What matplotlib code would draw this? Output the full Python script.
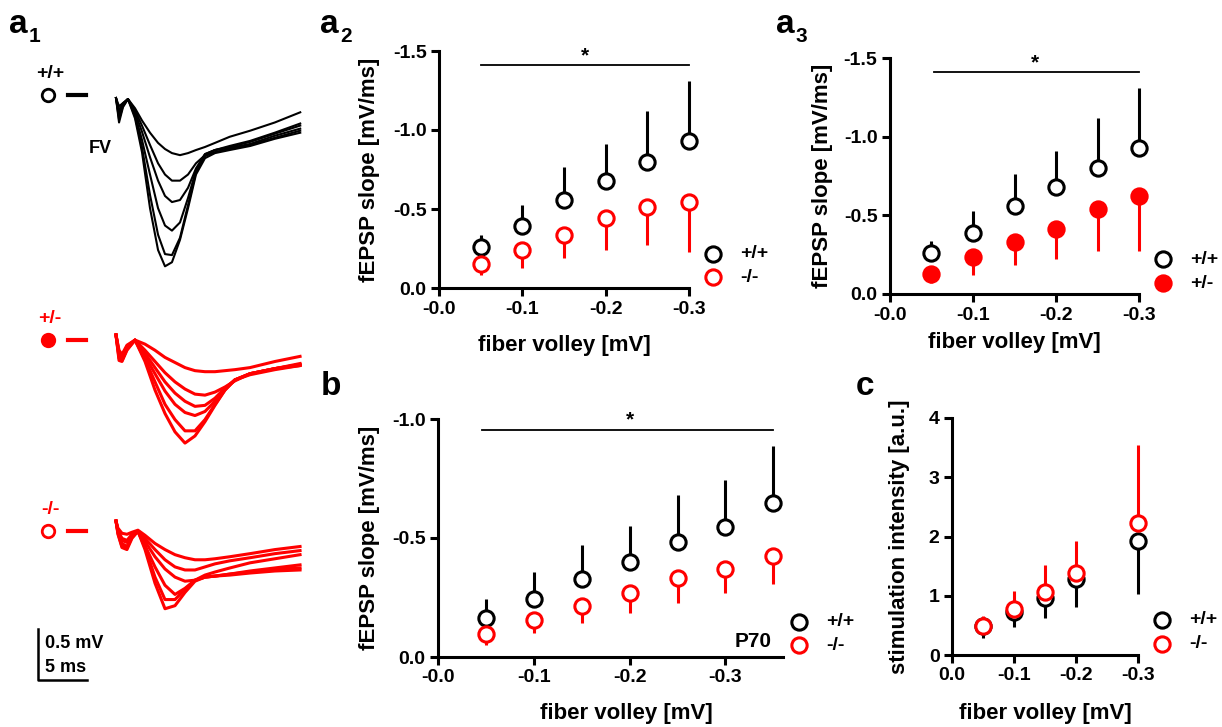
import numpy as np
import matplotlib
matplotlib.use('Agg')
import matplotlib.pyplot as plt

plt.rcParams['font.family'] = ['Liberation Sans', 'DejaVu Sans']
plt.rcParams['font.weight'] = 'bold'
plt.rcParams['axes.labelweight'] = 'bold'

RED = '#ff0000'
BLACK = '#000000'

# ---- example fEPSP traces (ms, mV relative to pre-stimulus baseline) ----
t_wt = [0, 0.31, 0.71, 1.22, 1.94, 2.65, 3.47, 4.29, 5.0, 5.71, 6.53, 7.35,
        8.16, 9.08, 10.1, 11.6, 13.7, 16.2, 18.8]
traces_wt = [
    [0, -0.08, -0.05, -0.01, -0.10, -0.22, -0.34, -0.44, -0.50, -0.54, -0.56, -0.54,
     -0.51, -0.48, -0.44, -0.38, -0.32, -0.24, -0.14],
    [0, -0.12, -0.05, -0.01, -0.12, -0.27, -0.46, -0.64, -0.75, -0.81, -0.81, -0.75,
     -0.64, -0.56, -0.51, -0.47, -0.42, -0.34, -0.25],
    [0, -0.15, -0.06, -0.01, -0.14, -0.33, -0.58, -0.81, -0.96, -1.02, -1.00, -0.88,
     -0.69, -0.55, -0.51, -0.48, -0.43, -0.35, -0.27],
    [0, -0.18, -0.07, -0.01, -0.16, -0.41, -0.75, -1.08, -1.25, -1.30, -1.22, -0.98,
     -0.71, -0.55, -0.51, -0.49, -0.45, -0.37, -0.30],
    [0, -0.21, -0.08, -0.01, -0.18, -0.48, -0.95, -1.34, -1.53, -1.54, -1.37, -1.05,
     -0.73, -0.57, -0.53, -0.50, -0.46, -0.39, -0.32],
    [0, -0.24, -0.09, -0.01, -0.20, -0.53, -1.08, -1.49, -1.65, -1.61, -1.39, -1.08,
     -0.75, -0.59, -0.54, -0.51, -0.47, -0.40, -0.34],
]

t_het = [0, 0.31, 0.61, 1.12, 1.94, 2.96, 3.98, 5.0, 6.02, 7.04, 8.06, 9.08,
         10.1, 11.12, 12.14, 13.67, 16.22, 18.78]
traces_het = [
    [0, -0.15, -0.19, -0.10, -0.05, -0.09, -0.15, -0.22, -0.27, -0.32, -0.35, -0.36,
     -0.36, -0.35, -0.34, -0.32, -0.26, -0.21],
    [0, -0.17, -0.22, -0.11, -0.05, -0.15, -0.26, -0.37, -0.46, -0.53, -0.58, -0.59,
     -0.56, -0.51, -0.45, -0.38, -0.33, -0.28],
    [0, -0.19, -0.24, -0.12, -0.05, -0.18, -0.32, -0.46, -0.57, -0.65, -0.70, -0.69,
     -0.62, -0.52, -0.44, -0.38, -0.33, -0.29],
    [0, -0.21, -0.25, -0.13, -0.05, -0.21, -0.38, -0.55, -0.68, -0.76, -0.79, -0.75,
     -0.65, -0.53, -0.44, -0.38, -0.33, -0.29],
    [0, -0.23, -0.25, -0.14, -0.05, -0.24, -0.46, -0.68, -0.83, -0.94, -0.94, -0.83,
     -0.68, -0.54, -0.44, -0.38, -0.33, -0.30],
    [0, -0.25, -0.26, -0.15, -0.05, -0.26, -0.54, -0.77, -0.95, -1.06, -0.99, -0.85,
     -0.69, -0.54, -0.44, -0.39, -0.34, -0.30],
]

t_ko = [0, 0.2, 0.61, 1.12, 1.63, 2.24, 2.96, 3.98, 5.0, 6.02, 7.04, 8.06,
        9.08, 10.1, 11.63, 13.67, 16.22, 18.78]
traces_ko = [
    [0, -0.07, -0.12, -0.13, -0.11, -0.09, -0.14, -0.22, -0.28, -0.33, -0.36, -0.38,
     -0.38, -0.37, -0.35, -0.32, -0.28, -0.25],
    [0, -0.09, -0.17, -0.19, -0.13, -0.10, -0.17, -0.28, -0.38, -0.45, -0.48, -0.48,
     -0.45, -0.42, -0.39, -0.36, -0.32, -0.29],
    [0, -0.10, -0.19, -0.21, -0.14, -0.10, -0.20, -0.35, -0.47, -0.55, -0.59, -0.58,
     -0.53, -0.50, -0.46, -0.41, -0.37, -0.33],
    [0, -0.11, -0.22, -0.25, -0.15, -0.10, -0.24, -0.45, -0.63, -0.72, -0.66, -0.58,
     -0.55, -0.54, -0.52, -0.49, -0.46, -0.43],
    [0, -0.12, -0.25, -0.26, -0.16, -0.10, -0.26, -0.55, -0.77, -0.77, -0.67, -0.58,
     -0.55, -0.54, -0.52, -0.50, -0.47, -0.46],
    [0, -0.13, -0.26, -0.28, -0.17, -0.10, -0.28, -0.61, -0.86, -0.83, -0.70, -0.59,
     -0.55, -0.54, -0.53, -0.51, -0.49, -0.48],
]

# ---- input-output: fEPSP slope vs fiber volley (a2, a3) ----
fv = [-0.05, -0.10, -0.15, -0.20, -0.25, -0.30]
wt_slope = [-0.26, -0.39, -0.56, -0.68, -0.80, -0.93]
wt_sem = [0.075, 0.135, 0.205, 0.23, 0.32, 0.38]
ko_slope = [-0.15, -0.24, -0.335, -0.445, -0.51, -0.545]
ko_sem = [0.07, 0.115, 0.145, 0.205, 0.24, 0.32]
het_slope = [-0.127, -0.238, -0.333, -0.412, -0.541, -0.625]
het_sem = [0.055, 0.12, 0.15, 0.19, 0.27, 0.35]

# ---- P70 animals (b) ----
fv_p70 = [-0.05, -0.10, -0.15, -0.20, -0.25, -0.30, -0.35]
wt_p70 = [-0.162, -0.243, -0.327, -0.40, -0.482, -0.545, -0.646]
wt_p70_sem = [0.08, 0.115, 0.145, 0.15, 0.20, 0.20, 0.24]
ko_p70 = [-0.096, -0.155, -0.214, -0.271, -0.33, -0.368, -0.425]
ko_p70_sem = [0.045, 0.055, 0.07, 0.085, 0.105, 0.10, 0.12]

# ---- stimulation intensity needed for a given fiber volley (c) ----
fv_stim = [-0.05, -0.10, -0.15, -0.20, -0.30]
wt_stim = [0.495, 0.73, 0.97, 1.28, 1.92]
wt_stim_sem = [0.215, 0.265, 0.34, 0.465, 0.89]
ko_stim = [0.49, 0.775, 1.067, 1.377, 2.22]
ko_stim_sem = [0.17, 0.305, 0.455, 0.545, 1.32]

W, H = 1222, 727
fig = plt.figure(figsize=(W / 100, H / 100), dpi=100)


def box(x0, y0, x1, y1):
    # pixel box (top-left origin) -> figure fraction rect
    return [x0 / W, (H - y1) / H, (x1 - x0) / W, (y1 - y0) / H]


def series(ax, x, y, sem, color, side, filled=False, z=3):
    zeros = [0] * len(sem)
    yerr = [sem, zeros] if side == 'lo' else [zeros, sem]
    eb = ax.errorbar(x, y, yerr=yerr, fmt='none', ecolor=color, elinewidth=2.2,
                     capsize=0, zorder=z)
    for coll in eb.lines[2]:
        coll.set_clip_on(False)
    ax.plot(x, y, 'o', ms=11, mew=2.2, mec=color,
            mfc=color if filled else 'white', zorder=z + 0.5, clip_on=False)


def style(ax, xlim, ylim, xticks, xlabels, yticks, ylabels, ylabel, ylab_x, xlab_y,
          xlab_x=0.5):
    ax.set_xlim(*xlim)
    ax.set_ylim(*ylim)
    ax.set_xticks(xticks)
    ax.set_xticklabels(xlabels)
    ax.set_yticks(yticks)
    ax.set_yticklabels(ylabels)
    for s in ('top', 'right'):
        ax.spines[s].set_visible(False)
    for s in ('left', 'bottom'):
        ax.spines[s].set_linewidth(2.2)
    ax.tick_params(direction='out', length=6, width=2.2, labelsize=14, pad=3)
    ax.set_xlabel('fiber volley [mV]', fontsize=16)
    ax.set_ylabel(ylabel, fontsize=16)
    ax.xaxis.set_label_coords(xlab_x, xlab_y)
    ax.yaxis.set_label_coords(ylab_x, 0.5)


def sig_bar(ax, x0, x1, level, star_x):
    ax.plot([x0, x1], [level, level], color='black', lw=1.3, clip_on=False)
    ax.text(star_x, level, '*', ha='center', va='bottom', fontsize=15)


# ---- a1: traces ----
ax1 = fig.add_axes([0, 0, 320 / W, 1])
ax1.set_xlim(-116 / 9.8, 204 / 9.8)
ax1.set_ylim(-H / 102, 0)
ax1.axis('off')
for t, group, base, color, lw in [(t_wt, traces_wt, -0.961, BLACK, 1.5),
                                  (t_het, traces_het, -3.284, RED, 2.2),
                                  (t_ko, traces_ko, -5.108, RED, 2.2)]:
    for v in group:
        ax1.plot(t, np.array(v) + base, color=color, lw=lw, solid_joinstyle='round')
# scale bar: 0.5 mV / 5 ms
sb_t, sb_v = -7.96, -6.667
ax1.plot([sb_t, sb_t, sb_t + 5], [sb_v + 0.5, sb_v, sb_v], color='black', lw=1.8)

# ---- a2 ----
ax2 = fig.add_axes(box(439, 51, 689, 288))
series(ax2, fv, wt_slope, wt_sem, BLACK, 'lo')
series(ax2, fv, ko_slope, ko_sem, RED, 'hi')
style(ax2, (0, -0.3), (0, -1.5), [0, -0.1, -0.2, -0.3], ['-0.0', '-0.1', '-0.2', '-0.3'],
      [0, -0.5, -1.0, -1.5], ['0.0', '-0.5', '-1.0', '-1.5'], 'fEPSP slope [mV/ms]',
      -0.236, -0.198)
sig_bar(ax2, -0.05, -0.30, -1.41, -0.175)

# ---- a3 ----
ax3 = fig.add_axes(box(890, 58, 1139, 294))
series(ax3, fv, wt_slope, wt_sem, BLACK, 'lo')
series(ax3, fv, het_slope, het_sem, RED, 'hi', filled=True)
style(ax3, (0, -0.3), (0, -1.5), [0, -0.1, -0.2, -0.3], ['-0.0', '-0.1', '-0.2', '-0.3'],
      [0, -0.5, -1.0, -1.5], ['0.0', '-0.5', '-1.0', '-1.5'], 'fEPSP slope [mV/ms]',
      -0.229, -0.163)
sig_bar(ax3, -0.053, -0.30, -1.41, -0.175)

# ---- b ----
axb = fig.add_axes(box(438, 419, 783, 657))
series(axb, fv_p70, wt_p70, wt_p70_sem, BLACK, 'lo')
series(axb, fv_p70, ko_p70, ko_p70_sem, RED, 'hi')
style(axb, (0, -0.36), (0, -1.0), [0, -0.1, -0.2, -0.3], ['-0.0', '-0.1', '-0.2', '-0.3'],
      [0, -0.5, -1.0], ['0.0', '-0.5', '-1.0'], 'fEPSP slope [mV/ms]', -0.168, -0.194,
      xlab_x=0.547)
sig_bar(axb, -0.046, -0.35, -0.955, -0.2)
axb.text(0.968, 0.042, 'P70', transform=axb.transAxes, ha='right', va='baseline', fontsize=15)

# ---- c ----
axc = fig.add_axes(box(952, 418, 1138, 655))
series(axc, fv_stim, wt_stim, wt_stim_sem, BLACK, 'lo', z=3)
series(axc, fv_stim, ko_stim, ko_stim_sem, RED, 'hi', z=4)
style(axc, (0, -0.3), (0, 4), [0, -0.1, -0.2, -0.3], ['0.0', '-0.1', '-0.2', '-0.3'],
      [0, 1, 2, 3, 4], ['0', '1', '2', '3', '4'], 'stimulation intensity [a.u.]',
      -0.224, -0.202)

# ---- labels, group keys and legends (pixel coordinates) ----
ov = fig.add_axes([0, 0, 1, 1])
ov.set_xlim(0, W)
ov.set_ylim(H, 0)
ov.axis('off')
ov.patch.set_alpha(0)


def panel_letter(x, y, letter, sub=''):
    ov.text(x, y, letter, fontsize=24, ha='left', va='baseline')
    if sub:
        ov.text(x + 20, y + 9, sub, fontsize=15, ha='left', va='baseline')


panel_letter(9, 33, 'a', '1')
panel_letter(320, 33, 'a', '2')
panel_letter(776, 33, 'a', '3')
panel_letter(321, 395, 'b')
panel_letter(856, 395, 'c')

# genotype keys next to the traces
for label, y, color, filled in [('+/+', 95, BLACK, False), ('+/-', 340, RED, True),
                                ('-/-', 531, RED, False)]:
    ov.text(50, y - 17, label, color=color, fontsize=14, ha='center', va='baseline')
    ov.plot([48], [y], 'o', ms=9, mew=2, mec=color, mfc=color if filled else 'white')
    ov.plot([68, 86], [y, y], color=color, lw=3)
ov.text(89, 153, 'FV', fontsize=13, ha='left', va='baseline')
ov.text(45, 648, '0.5 mV', fontsize=13, ha='left', va='baseline')
ov.text(45, 672, '5 ms', fontsize=13, ha='left', va='baseline')


def legend_keys(x, y, entries, dy=23):
    for i, (label, color, filled) in enumerate(entries):
        yy = y + i * dy
        ov.plot([x], [yy], 'o', ms=11, mew=2.2, mec=color, mfc=color if filled else 'white')
        ov.text(x + 27, yy, label, fontsize=14, ha='left', va='center')


legend_keys(713, 254, [('+/+', BLACK, False), ('-/-', RED, False)])
legend_keys(1163, 259, [('+/+', BLACK, False), ('+/-', RED, True)], dy=24)
legend_keys(799, 622, [('+/+', BLACK, False), ('-/-', RED, False)])
legend_keys(1162, 620, [('+/+', BLACK, False), ('-/-', RED, False)], dy=24)

fig.savefig('out.png', dpi=100)
